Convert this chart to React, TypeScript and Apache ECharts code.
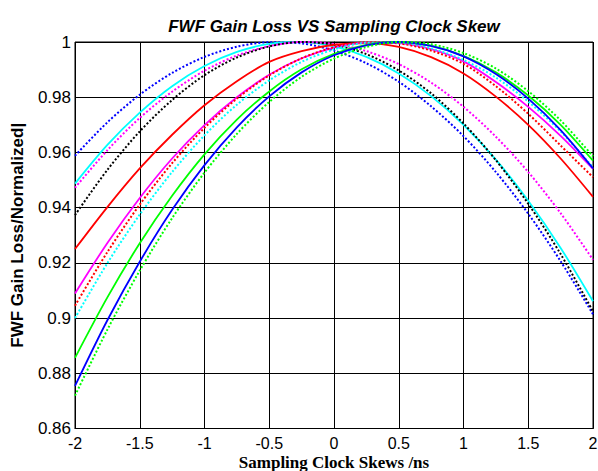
import React, { useEffect, useRef } from "react";
import * as echarts from "echarts";

const xValues = [-2, -1.75, -1.5, -1.25, -1, -0.75, -0.5, -0.25, 0, 0.25, 0.5, 0.75, 1, 1.25, 1.5, 1.75, 2];
const xTicks = ["-2", "-1.5", "-1", "-0.5", "0", "0.5", "1", "1.5", "2"];
const yTicks = ["0.86", "0.88", "0.9", "0.92", "0.94", "0.96", "0.98", "1"];

const blueDotted = [0.9588, 0.9709, 0.9809, 0.9888, 0.9946, 0.9983, 0.9999, 0.9995, 0.9969, 0.9923, 0.9856, 0.9767, 0.9659, 0.9529, 0.9378, 0.9206, 0.9014];
const cyanSolid = [0.9487, 0.9627, 0.9744, 0.984, 0.9913, 0.9964, 0.9993, 1.0, 0.9984, 0.9946, 0.9886, 0.9804, 0.97, 0.9574, 0.9425, 0.9254, 0.9061];
const magentaDotted = [0.9472, 0.9608, 0.9725, 0.982, 0.9896, 0.9951, 0.9985, 1.0, 0.9993, 0.9967, 0.992, 0.9853, 0.9765, 0.9657, 0.9529, 0.938, 0.9211];
const blackDotted = [0.9373, 0.9537, 0.9676, 0.979, 0.988, 0.9944, 0.9984, 1.0, 0.999, 0.9956, 0.9897, 0.9814, 0.9705, 0.9572, 0.9414, 0.9232, 0.9024];
const redSolid = [0.925, 0.9402, 0.9542, 0.9664, 0.9771, 0.9858, 0.9928, 0.9967, 0.999, 0.9996, 0.9982, 0.9945, 0.9886, 0.9802, 0.97, 0.9578, 0.9439];
const magentaSolid = [0.9089, 0.9272, 0.9435, 0.9578, 0.9699, 0.98, 0.9881, 0.9941, 0.998, 0.9998, 0.9996, 0.9974, 0.993, 0.9855, 0.9765, 0.966, 0.954];
const redDotted = [0.9045, 0.9239, 0.9411, 0.9561, 0.9689, 0.9795, 0.9879, 0.9941, 0.9981, 0.9999, 0.9995, 0.9969, 0.9921, 0.984, 0.974, 0.9625, 0.951];
const cyanDotted = [0.9, 0.9199, 0.9375, 0.9529, 0.9662, 0.9773, 0.9861, 0.9928, 0.9973, 0.9997, 0.9998, 0.9977, 0.9935, 0.9871, 0.9784, 0.9676, 0.9546];
const greenSolid = [0.8856, 0.9075, 0.9271, 0.9443, 0.9593, 0.9719, 0.9821, 0.9901, 0.9957, 0.999, 1.0, 0.9986, 0.995, 0.989, 0.9806, 0.97, 0.957];
const blueSolid = [0.8754, 0.8992, 0.9204, 0.9392, 0.9554, 0.9691, 0.9803, 0.989, 0.9952, 0.9988, 1.0, 0.9986, 0.9948, 0.9884, 0.9795, 0.9681, 0.9542];
const greenDotted = [0.8719, 0.8958, 0.9172, 0.9362, 0.9527, 0.9667, 0.9783, 0.9874, 0.994, 0.9982, 1.0, 0.9992, 0.996, 0.9904, 0.9822, 0.9716, 0.9586];

const seriesDefs = [
  { name: "blue dotted", data: blueDotted, color: "#0000ff", dotted: true },
  { name: "cyan solid", data: cyanSolid, color: "#00ffff", dotted: false },
  { name: "magenta dotted", data: magentaDotted, color: "#ff00ff", dotted: true },
  { name: "black dotted", data: blackDotted, color: "#000000", dotted: true },
  { name: "red solid", data: redSolid, color: "#ff0000", dotted: false },
  { name: "magenta solid", data: magentaSolid, color: "#ff00ff", dotted: false },
  { name: "red dotted", data: redDotted, color: "#ff0000", dotted: true },
  { name: "cyan dotted", data: cyanDotted, color: "#00ffff", dotted: true },
  { name: "green solid", data: greenSolid, color: "#00ff00", dotted: false },
  { name: "blue solid", data: blueSolid, color: "#0000ff", dotted: false },
  { name: "green dotted", data: greenDotted, color: "#00ff00", dotted: true },
];

const FONT = "Arial, 'Liberation Sans', sans-serif";

export default function App() {
  const ref = useRef<HTMLDivElement>(null);
  useEffect(() => {
    if (!ref.current) return;
    const chart = echarts.init(ref.current, null, { renderer: "svg" });
    chart.setOption({
      animation: false,
      backgroundColor: "#ffffff",
      grid: {
        left: 75,
        right: 5,
        top: 42,
        bottom: 42.5,
        containLabel: false,
        outerBoundsMode: "none",
        show: true,
        borderColor: "#000",
        borderWidth: 1,
        backgroundColor: "transparent",
      },
      graphic: [
        {
          type: "text",
          x: 334,
          y: 26.5,
          style: {
            text: "FWF Gain Loss VS Sampling Clock Skew",
            font: "italic bold 17px " + FONT,
            textAlign: "center",
            textVerticalAlign: "middle",
            fill: "#000",
          },
        },
      ],
      xAxis: {
        type: "value",
        min: -2,
        max: 2,
        interval: 0.5,
        name: "Sampling Clock Skews /ns",
        nameLocation: "middle",
        nameGap: 25,
        nameMoveOverlap: false,
        nameTextStyle: {
          fontFamily: "'Liberation Serif', 'Times New Roman', serif",
          fontWeight: "bold",
          fontSize: 17,
          lineHeight: 18,
          color: "#000",
        },
        axisLine: { show: true, lineStyle: { color: "#000", width: 1 } },
        axisTick: { show: true, inside: true, length: 5, lineStyle: { color: "#000" } },
        axisLabel: {
          color: "#000",
          fontSize: 16,
          lineHeight: 18,
          fontFamily: FONT,
          margin: 6,
          formatter: (v: number) => xTicks[Math.round((v + 2) / 0.5)] ?? String(v),
        },
        splitLine: { show: true, lineStyle: { color: "#000", width: 1, type: "solid" } },
      },
      yAxis: {
        type: "value",
        min: 0.86,
        max: 1,
        interval: 0.02,
        name: "FWF Gain Loss/Normalized|",
        nameLocation: "middle",
        nameGap: 49,
        nameMoveOverlap: false,
        nameTextStyle: { fontFamily: FONT, fontWeight: "bold", fontSize: 17, color: "#000" },
        axisLine: { show: true, lineStyle: { color: "#000", width: 1 } },
        axisTick: { show: true, inside: true, length: 5, lineStyle: { color: "#000" } },
        axisLabel: {
          color: "#000",
          fontSize: 17,
          fontFamily: FONT,
          margin: 4,
          formatter: (v: number) => yTicks[Math.round((v - 0.86) / 0.02)] ?? String(v),
        },
        splitLine: { show: true, lineStyle: { color: "#000", width: 1, type: "solid" } },
      },
      series: seriesDefs.map((s) => ({
        type: "line",
        name: s.name,
        data: xValues.map((x, i) => [x, s.data[i]]),
        symbol: "none",
        smooth: 0.3,
        clip: true,
        lineStyle: { color: s.color, width: s.dotted ? 2 : 1.8, type: s.dotted ? [2, 2] : "solid" },
        itemStyle: { color: s.color },
      })),
    });
    return () => chart.dispose();
  }, []);
  return (
    <div
      ref={ref}
      style={{ position: "fixed", left: 0, top: 0, width: 598, height: 471, background: "#fff" }}
    />
  );
}
